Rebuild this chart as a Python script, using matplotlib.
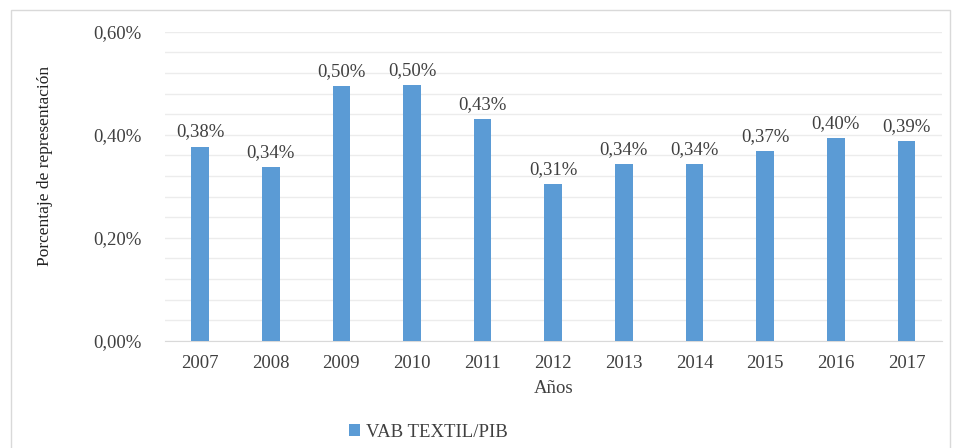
import numpy as np
import matplotlib.pyplot as plt
from matplotlib.ticker import MultipleLocator, FuncFormatter
from matplotlib.patches import Rectangle

plt.rcParams['font.family'] = ['Liberation Serif', 'DejaVu Serif']

years = ['2007', '2008', '2009', '2010', '2011', '2012', '2013', '2014', '2015', '2016', '2017']
vab_pib = [0.377, 0.338, 0.494, 0.496, 0.431, 0.305, 0.343, 0.343, 0.368, 0.393, 0.388]
bar_labels = ['0,38%', '0,34%', '0,50%', '0,50%', '0,43%', '0,31%', '0,34%', '0,34%', '0,37%', '0,40%', '0,39%']

blue = '#5B9BD5'
txt = '#404040'
fs = 13.5

fig = plt.figure(figsize=(9.58, 4.48), dpi=100)
ax = fig.add_axes([0.172, 0.239, 0.811, 0.690])

x = np.arange(len(years))
bars = ax.bar(x, vab_pib, width=0.25, color=blue, zorder=3, label='VAB TEXTIL/PIB')
for xi, v, s in zip(x, vab_pib, bar_labels):
    ax.text(xi, v + 0.012, s, ha='center', va='bottom', fontsize=fs, color=txt)

ax.set_xlim(-0.5, len(years) - 0.5)
ax.set_ylim(0, 0.6)
ax.yaxis.set_major_locator(MultipleLocator(0.2))
ax.yaxis.set_minor_locator(MultipleLocator(0.04))
ax.yaxis.set_major_formatter(FuncFormatter(lambda v, p: ('%.2f%%' % v).replace('.', ',')))
ax.grid(axis='y', which='both', color='#ececec', lw=1, zorder=0)
ax.set_xticks(x)
ax.set_xticklabels(years)
ax.tick_params(axis='both', which='both', length=0, labelsize=fs, colors=txt)
ax.tick_params(axis='y', pad=17)
ax.tick_params(axis='x', pad=10)
for sp in ['top', 'right', 'left']:
    ax.spines[sp].set_visible(False)
ax.spines['bottom'].set_color('#d9d9d9')

ax.set_xlabel('Años', fontsize=fs, color=txt, labelpad=6)
fig.text(45 / 958, 1 - 166 / 448, 'Porcentaje de representación', rotation=90,
         ha='center', va='center', fontsize=12.5, color='#222222')

fig.legend(handles=[bars], loc='center', bbox_to_anchor=(0.447, 0.035), frameon=False,
           fontsize=fs, handlelength=0.6, handleheight=0.6, handletextpad=0.3,
           labelcolor=txt)

fig.patches.append(Rectangle((0.012, -0.01), 0.98, 0.988, transform=fig.transFigure,
                             fill=False, ec='#d9d9d9', lw=1))

fig.savefig('out.png', dpi=100)
